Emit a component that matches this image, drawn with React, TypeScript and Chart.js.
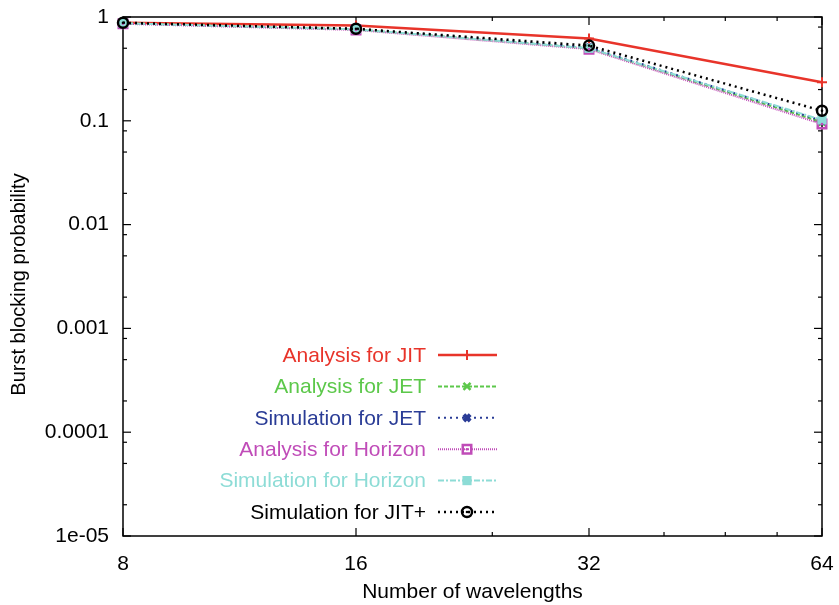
import React, { useEffect, useRef } from 'react';
import { Chart, registerables } from 'chart.js';
import { drawPoint } from 'chart.js/helpers';

Chart.register(...registerables);

// ---- data ----
const wavelengths = [8, 16, 32, 64];
const analysisJIT = [0.88, 0.83, 0.62, 0.235];
const analysisJET = [0.87, 0.76, 0.5, 0.097];
const simulationJET = [0.87, 0.77, 0.51, 0.1];
const analysisHorizon = [0.86, 0.75, 0.49, 0.093];
const simulationHorizon = [0.87, 0.76, 0.5, 0.102];
const simulationJITplus = [0.88, 0.77, 0.53, 0.125];

const seriesLabels = [
  'Analysis for JIT',
  'Analysis for JET',
  'Simulation for JET',
  'Analysis for Horizon',
  'Simulation for Horizon',
  'Simulation for JIT+',
];

const xTickValues = [8, 16, 32, 64];
const xMinorTickValues = [24, 40, 48, 56];
const yTickValues = [1e-5, 1e-4, 1e-3, 0.01, 0.1, 1];
const yTickLabels = ['1e-05', '0.0001', '0.001', '0.01', '0.1', '1'];
const yMinorFactors = [0.8, 0.5, 0.2];

const xTitle = 'Number of wavelengths';
const yTitle = 'Burst blocking probability';

const FONT = '"Liberation Sans", Arial, Helvetica, sans-serif';

type SeriesStyle = {
  color: string;
  dash: number[];
  width: number;
  pointStyle: string;
  radius: number;
  pointBorder: number;
  fill: string;
  centerDot: boolean;
};

const styles: SeriesStyle[] = [
  { color: '#e8342a', dash: [], width: 2.5, pointStyle: 'cross', radius: 5, pointBorder: 2, fill: 'rgba(0,0,0,0)', centerDot: false },
  { color: '#5cc84a', dash: [4, 2], width: 2, pointStyle: 'crossRot', radius: 5, pointBorder: 2.5, fill: 'rgba(0,0,0,0)', centerDot: false },
  { color: '#2a3c96', dash: [2, 4], width: 2, pointStyle: 'crossRot', radius: 4.5, pointBorder: 4, fill: '#2a3c96', centerDot: false },
  { color: '#c04cb8', dash: [1, 1], width: 2, pointStyle: 'rect', radius: 6, pointBorder: 2.5, fill: 'rgba(0,0,0,0)', centerDot: true },
  { color: '#8ddcd6', dash: [6, 2, 2, 2], width: 2, pointStyle: 'rect', radius: 6.5, pointBorder: 0, fill: '#8ddcd6', centerDot: false },
  { color: '#000000', dash: [2, 4], width: 2.5, pointStyle: 'circle', radius: 5, pointBorder: 2.5, fill: 'rgba(0,0,0,0)', centerDot: true },
];

const seriesValues = [analysisJIT, analysisJET, simulationJET, analysisHorizon, simulationHorizon, simulationJITplus];

const framePlugin = {
  id: 'gnuFrame',
  beforeDatasetsDraw(chart: any) {
    const { ctx, chartArea } = chart;
    const { left, right, top, bottom } = chartArea;
    const xs = chart.scales.x;
    const ys = chart.scales.y;
    ctx.save();
    ctx.strokeStyle = '#000';
    ctx.lineWidth = 1.5;
    ctx.setLineDash([]);
    ctx.strokeRect(left, top, right - left, bottom - top);
    ctx.lineWidth = 1.2;
    const major = 8;
    const minor = 4;
    const tick = (x1: number, y1: number, x2: number, y2: number) => {
      ctx.beginPath();
      ctx.moveTo(x1, y1);
      ctx.lineTo(x2, y2);
      ctx.stroke();
    };
    xTickValues.forEach((v) => {
      const px = xs.getPixelForValue(v);
      tick(px, bottom, px, bottom - major);
      tick(px, top, px, top + major);
    });
    xMinorTickValues.forEach((v) => {
      const px = xs.getPixelForValue(v);
      tick(px, bottom, px, bottom - minor);
      tick(px, top, px, top + minor);
    });
    yTickValues.forEach((v, i) => {
      const py = ys.getPixelForValue(v);
      tick(left, py, left + major, py);
      tick(right, py, right - major, py);
      if (i > 0) {
        yMinorFactors.forEach((f) => {
          const my = ys.getPixelForValue(v * f);
          tick(left, my, left + minor, my);
          tick(right, my, right - minor, my);
        });
      }
    });
    // y axis title
    ctx.save();
    ctx.translate(19, (top + bottom) / 2 + 8);
    ctx.rotate(-Math.PI / 2);
    ctx.font = `20px ${FONT}`;
    ctx.fillStyle = '#000';
    ctx.textAlign = 'center';
    ctx.textBaseline = 'middle';
    ctx.fillText(yTitle, 0, 0);
    ctx.restore();
    ctx.restore();
  },
};

const dotPlugin = {
  id: 'centerDots',
  afterDatasetsDraw(chart: any) {
    const { ctx } = chart;
    ctx.save();
    chart.data.datasets.forEach((ds: any, i: number) => {
      const st = styles[i];
      if (!st.centerDot) return;
      const meta = chart.getDatasetMeta(i);
      meta.data.forEach((pt: any) => {
        ctx.fillStyle = st.color;
        ctx.beginPath();
        ctx.arc(pt.x, pt.y, 1.3, 0, Math.PI * 2);
        ctx.fill();
      });
    });
    ctx.restore();
  },
};

const legendPlugin = {
  id: 'gnuLegend',
  afterDatasetsDraw(chart: any) {
    const { ctx } = chart;
    const textRight = 426;
    const lineStart = 438;
    const lineEnd = 497;
    const markX = 467;
    const y0 = 355;
    const step = 31.4;
    ctx.save();
    ctx.font = `21px ${FONT}`;
    ctx.textAlign = 'right';
    ctx.textBaseline = 'middle';
    chart.data.datasets.forEach((ds: any, i: number) => {
      const st = styles[i];
      const y = y0 + i * step;
      ctx.fillStyle = st.color;
      ctx.fillText(ds.label, textRight, y + 1);
      ctx.strokeStyle = st.color;
      ctx.lineWidth = st.width;
      ctx.setLineDash(st.dash);
      ctx.beginPath();
      ctx.moveTo(lineStart, y);
      ctx.lineTo(lineEnd, y);
      ctx.stroke();
      ctx.setLineDash([]);
      ctx.fillStyle = st.fill;
      ctx.lineWidth = st.pointBorder;
      drawPoint(ctx, { pointStyle: st.pointStyle as any, rotation: 0, radius: st.radius, borderWidth: st.pointBorder }, markX, y);
      if (st.centerDot) {
        ctx.fillStyle = st.color;
        ctx.beginPath();
        ctx.arc(markX, y, 1.3, 0, Math.PI * 2);
        ctx.fill();
      }
    });
    ctx.restore();
  },
};

export default function App() {
  const ref = useRef<HTMLCanvasElement | null>(null);
  useEffect(() => {
    if (!ref.current) return;
    const datasets = seriesValues.map((vals, i) => {
      const st = styles[i];
      return {
        label: seriesLabels[i],
        data: wavelengths.map((w, j) => ({ x: w, y: vals[j] })),
        borderColor: st.color,
        backgroundColor: st.fill,
        borderWidth: st.width,
        borderDash: st.dash,
        pointStyle: st.pointStyle,
        pointRadius: st.radius,
        pointBorderWidth: st.pointBorder,
        pointBorderColor: st.color,
        pointBackgroundColor: st.fill,
        tension: 0,
        order: 6 - i,
        clip: false as any,
      };
    });
    const chart = new Chart(ref.current, {
      type: 'line',
      data: { datasets },
      plugins: [framePlugin, dotPlugin, legendPlugin],
      options: {
        animation: false,
        responsive: false,
        devicePixelRatio: 1,
        layout: { autoPadding: false, padding: { top: 17, right: 17, left: 0, bottom: 0 } },
        plugins: { legend: { display: false }, tooltip: { enabled: false } },
        scales: {
          x: {
            type: 'logarithmic',
            min: 8,
            max: 64,
            grid: { display: false, drawTicks: false },
            border: { display: false },
            afterBuildTicks: (scale: any) => {
              scale.ticks = xTickValues.map((v) => ({ value: v }));
            },
            afterFit: (scale: any) => {
              scale.height = 69;
              scale.paddingLeft = 0;
              scale.paddingRight = 0;
            },
            ticks: {
              autoSkip: false,
              maxRotation: 0,
              padding: 16,
              color: '#000',
              font: { family: FONT, size: 21 },
              callback: (v: any) => String(v),
            },
            title: {
              display: true,
              text: xTitle,
              color: '#000',
              font: { family: FONT, size: 21 },
              padding: { top: 0, bottom: 0 },
            },
          },
          y: {
            type: 'logarithmic',
            min: 1e-5,
            max: 1,
            grid: { display: false, drawTicks: false },
            border: { display: false },
            afterBuildTicks: (scale: any) => {
              scale.ticks = yTickValues.map((v) => ({ value: v }));
            },
            afterFit: (scale: any) => {
              scale.width = 123;
              scale.paddingTop = 0;
              scale.paddingBottom = 0;
            },
            ticks: {
              autoSkip: false,
              padding: 14,
              color: '#000',
              font: { family: FONT, size: 21 },
              callback: (v: any) => {
                const idx = yTickValues.findIndex((t) => Math.abs(Math.log10(t) - Math.log10(v)) < 1e-6);
                return idx >= 0 ? yTickLabels[idx] : '';
              },
            },
            title: { display: false },
          },
        },
      } as any,
    });
    return () => chart.destroy();
  }, []);
  return (
    <div style={{ position: 'fixed', left: 0, top: 0, width: 839, height: 605, background: '#fff' }}>
      <canvas ref={ref} width={839} height={605} style={{ width: 839, height: 605, display: 'block' }} />
    </div>
  );
}
